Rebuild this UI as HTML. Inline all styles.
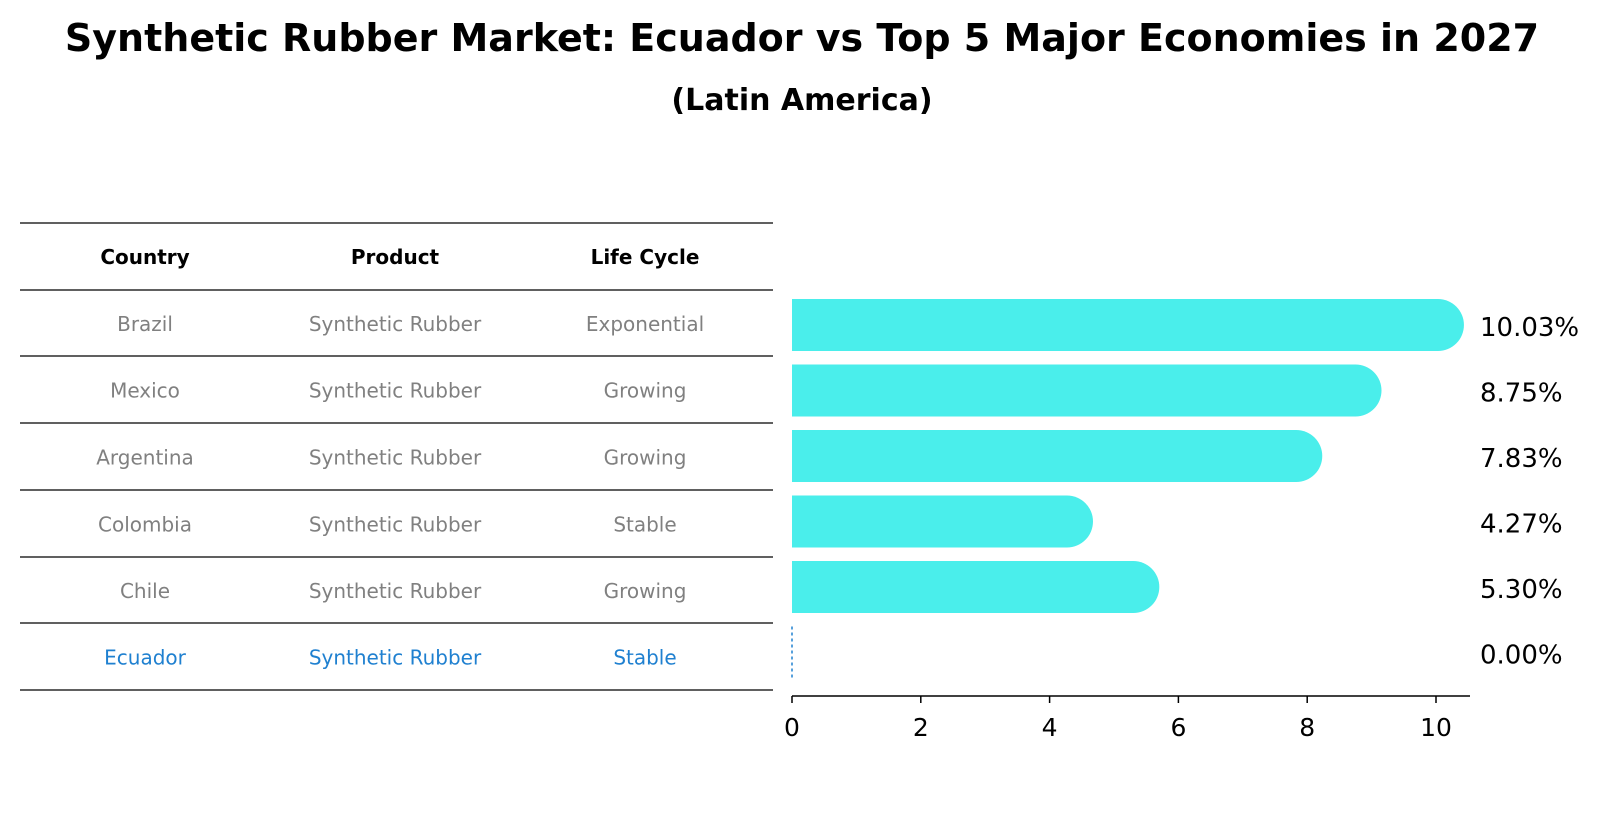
<!DOCTYPE html>
<html><head><meta charset="utf-8"><style>
html,body{margin:0;padding:0;background:#fff;}
svg{display:block;font-family:"DejaVu Sans","Liberation Sans",sans-serif;}
</style></head><body>
<svg id="chart" width="1604" height="823" viewBox="0 0 1604 823">
<text x="802" y="51" text-anchor="middle" font-size="38" font-weight="bold">Synthetic Rubber Market: Ecuador vs Top 5 Major Economies in 2027</text>
<text x="802" y="110" text-anchor="middle" font-size="30" font-weight="bold">(Latin America)</text>
<g id="table"></g>
<g id="bars"></g>
</svg>
<script>
const countries = ["Brazil","Mexico","Argentina","Colombia","Chile","Ecuador"];
const products = ["Synthetic Rubber","Synthetic Rubber","Synthetic Rubber","Synthetic Rubber","Synthetic Rubber","Synthetic Rubber"];
const lifeCycles = ["Exponential","Growing","Growing","Stable","Growing","Stable"];
const growthValues = [10.03, 8.75, 7.83, 4.27, 5.30, 0.00];
const xTicks = [0, 2, 4, 6, 8, 10];

const NS = "http://www.w3.org/2000/svg";
function mk(tag, attrs, parent, text) {
  const e = document.createElementNS(NS, tag);
  for (const k in attrs) e.setAttribute(k, attrs[k]);
  if (text !== undefined) e.textContent = text;
  parent.appendChild(e);
  return e;
}
const table = document.getElementById('table');
const bars = document.getElementById('bars');

// table
const lineYs = [223, 290, 356, 423, 490, 557, 623, 690];
const colX = [145, 395, 645];
lineYs.forEach((y, i) => {
  const l = mk('line', {x1: 20, x2: 773, y1: y, y2: y, stroke: '#000', 'stroke-width': 1.3}, table);
  
  
});
["Country","Product","Life Cycle"].forEach((h, j) => {
  const t = mk('text', {x: colX[j], y: 264, 'text-anchor': 'middle', 'font-size': 20, 'font-weight': 'bold'}, table, h);
  
  
});
countries.forEach((c, i) => {
  const cy = (lineYs[i + 1] + lineYs[i + 2]) / 2 + 8;
  const col = c === 'Ecuador' ? '#1f80d0' : '#808080';
  [c, products[i], lifeCycles[i]].forEach((v, j) => {
    const t = mk('text', {x: colX[j], y: cy, 'text-anchor': 'middle', 'font-size': 20, fill: col}, table, v);
    
    
  });
});

// bar chart axes
const x0 = 792, pxPerUnit = 64.4, axisY = 696, barH = 52;
const xScale = v => x0 + v * pxPerUnit;
const yCenter = i => 325 + i * 65.5;

const ax = mk('line', {x1: x0, x2: 1470, y1: axisY, y2: axisY, stroke: '#000', 'stroke-width': 1.5}, bars);


xTicks.forEach(t => {
  const tk = mk('line', {x1: xScale(t), x2: xScale(t), y1: axisY, y2: axisY + 7, stroke: '#000', 'stroke-width': 1.5}, bars);
  
  
  const tl = mk('text', {x: xScale(t), y: 736, 'text-anchor': 'middle', 'font-size': 25}, bars, String(t));
  
  
});

growthValues.forEach((v, i) => {
  const cy = yCenter(i);
  if (v > 0) {
    const xe = xScale(v), r = barH / 2;
    const d = `M${x0},${cy - r} L${xe},${cy - r} A${r},${r} 0 0 1 ${xe},${cy + r} L${x0},${cy + r} Z`;
    const b = mk('path', {d: d, fill: '#4aeeeb'}, bars);
    
    
  } else {
    const b = mk('line', {x1: xScale(v), x2: xScale(v), y1: cy - barH / 2, y2: cy + barH / 2, stroke: '#1f80d0', 'stroke-width': 1.5, 'stroke-dasharray': '3,3'}, bars);
    
    
  }
  const lab = mk('text', {x: 1480, y: cy + 11, 'font-size': 26}, bars, v.toFixed(2) + '%');
  
  
});
</script>
</body></html>
